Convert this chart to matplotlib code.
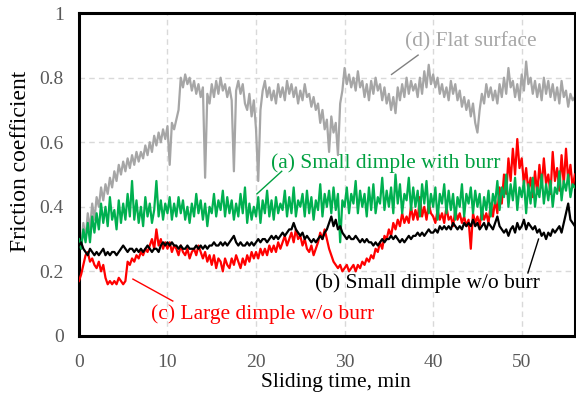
import numpy as np
import matplotlib
matplotlib.use('Agg')
from matplotlib import pyplot as plt

plt.rcParams['font.family'] = ['Liberation Serif', 'DejaVu Serif']

# time axis, 0.25 min per reading
t = np.arange(0, 56.01, 0.25)

# (d) flat surface
flat = [0.30, 0.27, 0.35, 0.30, 0.38, 0.33, 0.41, 0.36, 0.43, 0.40, 0.46, 0.42,
        0.47, 0.44, 0.49, 0.46, 0.51, 0.48, 0.53, 0.50, 0.54, 0.51, 0.55, 0.52,
        0.56, 0.53, 0.57, 0.54, 0.57, 0.55, 0.59, 0.56, 0.60, 0.57, 0.62, 0.59,
        0.63, 0.60, 0.64, 0.61, 0.65, 0.53, 0.66, 0.64, 0.67, 0.70, 0.80, 0.77,
        0.81, 0.78, 0.80, 0.76, 0.79, 0.75, 0.78, 0.74, 0.77, 0.49, 0.75, 0.72,
        0.78, 0.74, 0.79, 0.75, 0.80, 0.76, 0.78, 0.74, 0.77, 0.73, 0.51, 0.76,
        0.79, 0.75, 0.78, 0.72, 0.70, 0.75, 0.68, 0.73, 0.64, 0.48, 0.70, 0.76,
        0.79, 0.74, 0.77, 0.73, 0.76, 0.72, 0.78, 0.74, 0.77, 0.73, 0.79, 0.75,
        0.78, 0.74, 0.77, 0.72, 0.76, 0.73, 0.78, 0.74, 0.75, 0.71, 0.74, 0.70,
        0.72, 0.66, 0.70, 0.64, 0.67, 0.57, 0.68, 0.63, 0.66, 0.56, 0.72, 0.76,
        0.83, 0.78, 0.81, 0.77, 0.80, 0.76, 0.82, 0.77, 0.79, 0.74, 0.78, 0.73,
        0.79, 0.75, 0.80, 0.76, 0.78, 0.73, 0.77, 0.72, 0.75, 0.70, 0.74, 0.69,
        0.77, 0.73, 0.78, 0.74, 0.80, 0.75, 0.79, 0.76, 0.78, 0.74, 0.80, 0.75,
        0.82, 0.77, 0.84, 0.78, 0.81, 0.77, 0.80, 0.75, 0.78, 0.74, 0.77, 0.73,
        0.79, 0.75, 0.78, 0.73, 0.76, 0.71, 0.74, 0.70, 0.73, 0.68, 0.72, 0.66,
        0.63, 0.70, 0.75, 0.72, 0.78, 0.74, 0.77, 0.73, 0.76, 0.72, 0.78, 0.74,
        0.80, 0.75, 0.83, 0.77, 0.79, 0.74, 0.78, 0.73, 0.81, 0.76, 0.85, 0.78,
        0.80, 0.75, 0.79, 0.74, 0.78, 0.73, 0.80, 0.75, 0.79, 0.74, 0.78, 0.73,
        0.77, 0.72, 0.79, 0.74, 0.76, 0.71, 0.75, 0.73, 0.74]

# (a) small dimple with burr
burr = [0.30, 0.27, 0.33, 0.29, 0.35, 0.29, 0.37, 0.32, 0.38, 0.33, 0.41, 0.35,
        0.40, 0.34, 0.43, 0.36, 0.39, 0.33, 0.42, 0.35, 0.41, 0.36, 0.44, 0.37,
        0.48, 0.36, 0.42, 0.35, 0.40, 0.34, 0.43, 0.37, 0.41, 0.35, 0.39, 0.48,
        0.37, 0.42, 0.36, 0.41, 0.38, 0.43, 0.36, 0.41, 0.37, 0.43, 0.38, 0.42,
        0.36, 0.40, 0.35, 0.41, 0.37, 0.44, 0.38, 0.42, 0.36, 0.41, 0.34, 0.40,
        0.38, 0.44, 0.37, 0.42, 0.39, 0.45, 0.37, 0.43, 0.38, 0.42, 0.36, 0.41,
        0.37, 0.44, 0.38, 0.46, 0.35, 0.41, 0.36, 0.40, 0.37, 0.43, 0.35, 0.42,
        0.38, 0.45, 0.37, 0.42, 0.36, 0.43, 0.38, 0.41, 0.39, 0.45, 0.37, 0.43,
        0.38, 0.46, 0.37, 0.42, 0.40, 0.44, 0.37, 0.45, 0.38, 0.43, 0.36, 0.42,
        0.39, 0.47, 0.37, 0.44, 0.40, 0.45, 0.38, 0.46, 0.39, 0.44, 0.29, 0.42,
        0.40, 0.46, 0.38, 0.44, 0.41, 0.48, 0.38, 0.45, 0.40, 0.44, 0.37, 0.46,
        0.39, 0.47, 0.38, 0.43, 0.41, 0.49, 0.39, 0.45, 0.40, 0.46, 0.38, 0.50,
        0.41, 0.47, 0.38, 0.44, 0.42, 0.49, 0.39, 0.46, 0.40, 0.45, 0.37, 0.47,
        0.41, 0.48, 0.38, 0.44, 0.40, 0.46, 0.36, 0.44, 0.41, 0.47, 0.38, 0.45,
        0.39, 0.44, 0.36, 0.43, 0.40, 0.47, 0.37, 0.44, 0.41, 0.46, 0.38, 0.45,
        0.40, 0.44, 0.36, 0.43, 0.39, 0.45, 0.37, 0.44, 0.41, 0.48, 0.39, 0.46,
        0.43, 0.50, 0.40, 0.47, 0.42, 0.49, 0.39, 0.46, 0.43, 0.48, 0.38, 0.47,
        0.41, 0.49, 0.40, 0.46, 0.43, 0.50, 0.41, 0.47, 0.42, 0.48, 0.40, 0.46,
        0.44, 0.51, 0.42, 0.48, 0.45, 0.50, 0.43, 0.47, 0.46]

# (b) small dimple w/o burr
small = [0.28, 0.29, 0.27, 0.26, 0.25, 0.27, 0.26, 0.25, 0.26, 0.25, 0.26, 0.27,
         0.25, 0.26, 0.25, 0.26, 0.26, 0.25, 0.26, 0.27, 0.28, 0.27, 0.26, 0.27,
         0.27, 0.26, 0.27, 0.26, 0.27, 0.26, 0.27, 0.28, 0.27, 0.26, 0.27, 0.27,
         0.26, 0.28, 0.29, 0.28, 0.29, 0.28, 0.29, 0.28, 0.28, 0.27, 0.28, 0.27,
         0.27, 0.28, 0.27, 0.27, 0.27, 0.28, 0.27, 0.28, 0.27, 0.28, 0.27, 0.28,
         0.28, 0.29, 0.28, 0.28, 0.29, 0.28, 0.29, 0.28, 0.29, 0.30, 0.31, 0.29,
         0.28, 0.29, 0.28, 0.28, 0.29, 0.28, 0.29, 0.28, 0.29, 0.30, 0.29, 0.30,
         0.30, 0.29, 0.30, 0.31, 0.30, 0.31, 0.30, 0.31, 0.32, 0.31, 0.32, 0.33,
         0.33, 0.35, 0.33, 0.32, 0.31, 0.32, 0.30, 0.31, 0.30, 0.29, 0.30, 0.29,
         0.30, 0.31, 0.30, 0.32, 0.33, 0.35, 0.37, 0.34, 0.36, 0.33, 0.34, 0.32,
         0.31, 0.30, 0.31, 0.30, 0.30, 0.31, 0.30, 0.29, 0.30, 0.29, 0.30, 0.29,
         0.29, 0.28, 0.29, 0.28, 0.29, 0.30, 0.29, 0.30, 0.30, 0.31, 0.30, 0.31,
         0.30, 0.29, 0.30, 0.29, 0.30, 0.31, 0.30, 0.31, 0.31, 0.32, 0.31, 0.32,
         0.31, 0.32, 0.33, 0.32, 0.32, 0.33, 0.32, 0.34, 0.33, 0.34, 0.33, 0.34,
         0.33, 0.35, 0.34, 0.33, 0.34, 0.33, 0.35, 0.34, 0.35, 0.34, 0.36, 0.34,
         0.35, 0.33, 0.34, 0.35, 0.33, 0.35, 0.34, 0.33, 0.35, 0.37, 0.34, 0.33,
         0.32, 0.33, 0.31, 0.33, 0.34, 0.32, 0.35, 0.33, 0.34, 0.36, 0.33, 0.35,
         0.34, 0.33, 0.34, 0.32, 0.33, 0.31, 0.32, 0.30, 0.32, 0.31, 0.33, 0.32,
         0.33, 0.34, 0.32, 0.35, 0.38, 0.41, 0.36, 0.35, 0.34]

# (c) large dimple w/o burr
large = [0.17, 0.19, 0.22, 0.25, 0.26, 0.23, 0.24, 0.22, 0.21, 0.23, 0.20, 0.22,
         0.18, 0.16, 0.17, 0.16, 0.17, 0.16, 0.18, 0.17, 0.16, 0.17, 0.23, 0.22,
         0.24, 0.23, 0.25, 0.24, 0.26, 0.25, 0.27, 0.26, 0.28, 0.30, 0.27, 0.33,
         0.28, 0.30, 0.27, 0.29, 0.27, 0.29, 0.26, 0.28, 0.27, 0.25, 0.28, 0.26,
         0.25, 0.27, 0.24, 0.26, 0.27, 0.25, 0.28, 0.26, 0.24, 0.26, 0.23, 0.25,
         0.22, 0.25, 0.21, 0.24, 0.23, 0.20, 0.24, 0.22, 0.21, 0.24, 0.22, 0.25,
         0.23, 0.21, 0.24, 0.22, 0.25, 0.23, 0.26, 0.24, 0.26, 0.24, 0.27, 0.25,
         0.27, 0.25, 0.28, 0.26, 0.28, 0.26, 0.29, 0.27, 0.29, 0.31, 0.28, 0.30,
         0.32, 0.29, 0.33, 0.30, 0.31, 0.28, 0.30, 0.27, 0.26, 0.28, 0.25, 0.27,
         0.29, 0.32, 0.30, 0.33, 0.30, 0.27, 0.25, 0.23, 0.22, 0.21, 0.22, 0.20,
         0.21, 0.22, 0.20, 0.21, 0.22, 0.20, 0.22, 0.21, 0.23, 0.22, 0.24, 0.23,
         0.25, 0.24, 0.27, 0.26, 0.29, 0.27, 0.31, 0.30, 0.33, 0.31, 0.35, 0.33,
         0.36, 0.34, 0.38, 0.35, 0.37, 0.35, 0.40, 0.36, 0.39, 0.36, 0.43, 0.37,
         0.40, 0.36, 0.41, 0.38, 0.37, 0.35, 0.39, 0.36, 0.38, 0.35, 0.40, 0.36,
         0.37, 0.34, 0.39, 0.36, 0.38, 0.35, 0.37, 0.34, 0.36, 0.27, 0.38, 0.35,
         0.37, 0.34, 0.39, 0.36, 0.38, 0.35, 0.41, 0.37, 0.42, 0.38, 0.46, 0.41,
         0.50, 0.44, 0.55, 0.48, 0.58, 0.50, 0.61, 0.52, 0.55, 0.47, 0.52, 0.45,
         0.49, 0.43, 0.51, 0.44, 0.53, 0.46, 0.55, 0.47, 0.50, 0.44, 0.57, 0.48,
         0.52, 0.45, 0.56, 0.47, 0.58, 0.48, 0.53, 0.46, 0.50]

xticks = [0, 10, 20, 30, 40, 50]
yticks = [0, 0.2, 0.4, 0.6, 0.8, 1]
ytick_labels = ['0', '0.2', '0.4', '0.6', '0.8', '1']

fig = plt.figure(figsize=(5.76, 3.98), dpi=100)
ax = fig.add_axes([0.137, 0.156, 0.861, 0.811])

ax.plot(t, flat, color='#a6a6a6', lw=1.6, zorder=2)
ax.plot(t, large, color='#ff0000', lw=1.6, zorder=3)
ax.plot(t, burr, color='#00b050', lw=1.6, zorder=4)
ax.plot(t, small, color='black', lw=1.6, zorder=5)

ax.set_xlim(0, 56)
ax.set_ylim(0, 1)
ax.set_xticks(xticks)
ax.set_yticks(yticks)
ax.set_yticklabels(ytick_labels)
ax.tick_params(length=0, labelsize=14, labelcolor='#595959')
ax.tick_params(axis='x', pad=13)
ax.tick_params(axis='y', pad=11)
ax.grid(True, color='#d9d9d9', ls=(0, (4, 3)), lw=1)
ax.set_axisbelow(True)
for s in ax.spines.values():
    s.set_linewidth(2.2)
    s.set_color('black')

ax.set_xlabel('Sliding time, min', fontsize=15.5)
ax.xaxis.set_label_coords(0.518, -0.115)
ax.set_ylabel('Friction coefficient', fontsize=17)
ax.yaxis.set_label_coords(-0.097, 0.54)

# annotations with leader lines
ax.text(44.2, 0.91, '(d) Flat surface', color='#a6a6a6', fontsize=15.5, ha='center', va='center')
ax.plot([38.3, 35.3], [0.87, 0.81], color='#808080', lw=1, zorder=6)

ax.text(34.6, 0.535, '(a) Small dimple with burr', color='#00a040', fontsize=15.5, ha='center', va='center', zorder=7)
ax.plot([22.9, 20.1], [0.51, 0.44], color='#00a040', lw=1, zorder=6)

ax.text(39.4, 0.164, '(b) Small dimple w/o burr', color='black', fontsize=15.5, ha='center', va='center')
ax.plot([50.7, 51.9], [0.195, 0.30], color='black', lw=1, zorder=6)

ax.text(20.7, 0.068, '(c) Large dimple w/o burr', color='#ff0000', fontsize=15.5, ha='center', va='center')
ax.plot([10.6, 6.1], [0.108, 0.176], color='#ff0000', lw=1, zorder=6)

fig.savefig('out.png', dpi=100)
